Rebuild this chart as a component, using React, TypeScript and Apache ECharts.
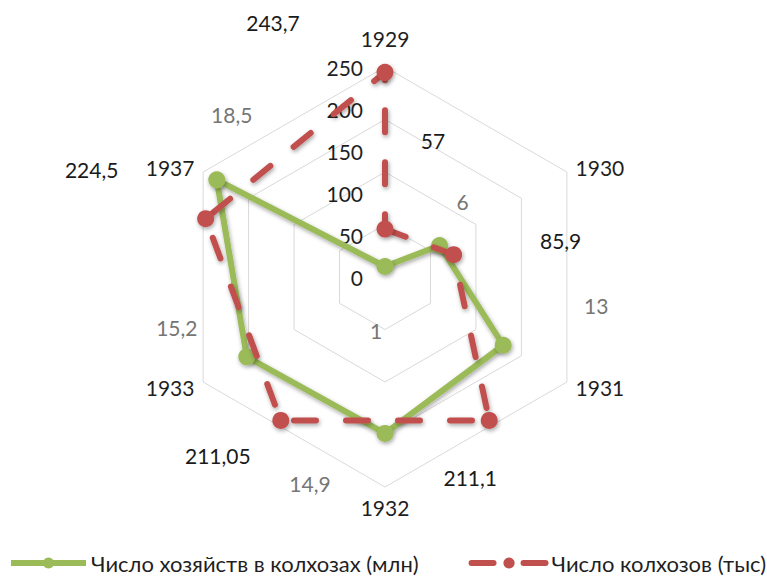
import React, { useEffect, useRef } from "react";
import * as echarts from "echarts";

// ---- data ----
const categories = ["1929", "1930", "1931", "1932", "1933", "1937"];
const households = [1, 6, 13, 14.9, 15.2, 18.5]; // млн
const kolkhozes = [57, 85.9, 211.1, 211.05, 224.5, 243.7]; // тыс
const seriesNames = ["Число хозяйств в колхозах (млн)", "Число колхозов (тыс)"];
const householdsMax = 20;
const householdsSplit = 4;
const kolkhozMax = 250;
const kolkhozTick = 50;

// ---- styles / layout ----
const CX = 385;
const CY = 277;
const R = 210;
const FONT = "Lato, 'Noto Sans', sans-serif";
const FS = 21;
const GREEN = "#9bbb59";
const RED = "#c0504d";
const householdLabelOffsets = [[-9, 64], [23, -44], [93, -40], [-75, 50], [-70, -29], [15, -65]];
const kolkhozLabelOffsets = [[48, -89], [107, -14], [-19, 57], [-63, 35], [-114, -49], [-112, -50]];

const fmt = (v: number) => String(v).replace(".", ",");

export default function App() {
  const ref = useRef<HTMLDivElement>(null);
  useEffect(() => {
    if (!ref.current) return;
    const chart = echarts.init(ref.current, null, { renderer: "svg" });
    const radarOrder = [0, ...categories.map((_, i) => i).slice(1).reverse()];
    const shadow = {
      shadowColor: "rgba(0,0,0,0.35)",
      shadowBlur: 4,
      shadowOffsetX: 1,
      shadowOffsetY: 2,
    };
    const greenData: any[] = households.map((v, i) => ({
      value: [v, i],
      label: { offset: householdLabelOffsets[i] },
    }));
    greenData.push({ value: [households[0], categories.length], symbol: "none", label: { show: false } });
    const redData: any[] = kolkhozes.map((v, i) => ({
      value: [v, i],
      label: { offset: kolkhozLabelOffsets[i] },
    }));
    redData.push({ value: [kolkhozes[0], kolkhozes.length - 1], symbol: "none", label: { show: false } });

    chart.setOption({
      animation: false,
      backgroundColor: "#ffffff",
      textStyle: { fontFamily: FONT },
      radar: {
        center: [CX, CY],
        radius: R,
        startAngle: 90,
        splitNumber: householdsSplit,
        shape: "polygon",
        indicator: radarOrder.map((i) => ({ name: categories[i], min: 0, max: householdsMax })),
        axisName: { color: "#1f1f1f", fontSize: FS, fontFamily: FONT, padding: [0, 0, 8, 0] },
        nameGap: 10,
        splitLine: { lineStyle: { color: "#d9d9d9", width: 1 } },
        splitArea: { show: false },
        axisLine: { show: false },
        axisTick: { show: false },
        axisLabel: { show: false },
      },
      polar: [
        { center: [CX, CY], radius: R },
        { center: [CX, CY], radius: R },
      ],
      angleAxis: [
        { polarIndex: 0, type: "value", min: 0, max: kolkhozes.length - 1, startAngle: 90, clockwise: true, show: false },
        { polarIndex: 1, type: "value", min: 0, max: categories.length, startAngle: 90, clockwise: true, show: false },
      ],
      radiusAxis: [
        {
          polarIndex: 0,
          type: "value",
          min: 0,
          max: kolkhozMax,
          interval: kolkhozTick,
          axisLine: { show: false },
          axisTick: { show: false },
          splitLine: { show: false },
          axisLabel: { margin: 22, fontSize: FS, color: "#1f1f1f", fontFamily: FONT },
        },
        { polarIndex: 1, type: "value", min: 0, max: householdsMax, show: false },
      ],
      legend: {
        orient: "horizontal",
        bottom: 4,
        left: 8,
        width: 800,
        padding: 0,
        itemWidth: 75,
        itemHeight: 14,
        itemGap: 50,
        lineStyle: { width: 6 },
        textStyle: { fontSize: 22, lineHeight: 24, color: "#1f1f1f", fontFamily: FONT },
        data: seriesNames,
      },
      series: [
        {
          name: seriesNames[0],
          type: "line",
          coordinateSystem: "polar",
          polarIndex: 1,
          data: greenData,
          symbol: "circle",
          symbolSize: 17,
          color: GREEN,
          lineStyle: { width: 6, color: GREEN, ...shadow },
          itemStyle: { color: GREEN, ...shadow },
          label: {
            show: true,
            position: "inside",
            color: "#767676",
            fontSize: FS,
            fontFamily: FONT,
            formatter: (p: any) => fmt(p.value[0]),
          },
          z: 3,
        },
        {
          name: seriesNames[1],
          type: "line",
          coordinateSystem: "polar",
          polarIndex: 0,
          data: redData,
          symbol: "circle",
          symbolSize: 17,
          color: RED,
          lineStyle: { width: 6, color: RED, type: [22, 30], cap: "round", ...shadow },
          itemStyle: { color: RED, ...shadow },
          label: {
            show: true,
            position: "inside",
            color: "#1a1a1a",
            fontSize: FS,
            fontFamily: FONT,
            formatter: (p: any) => fmt(p.value[0]),
          },
          z: 4,
        },
      ],
    });
    return () => chart.dispose();
  }, []);
  return (
    <div
      ref={ref}
      style={{ position: "fixed", left: 0, top: 0, width: 767, height: 579, background: "#fff" }}
    />
  );
}
